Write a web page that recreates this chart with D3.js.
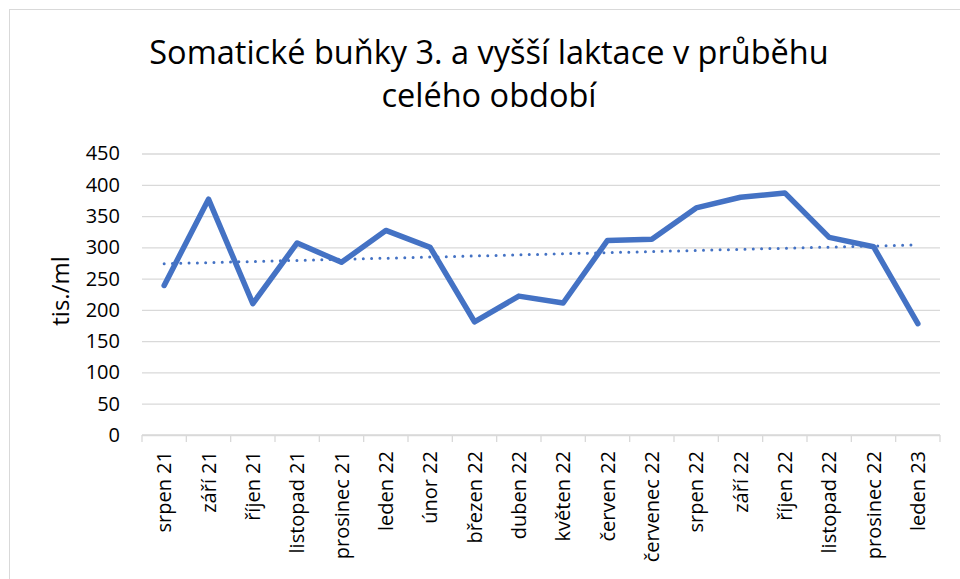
<!DOCTYPE html>
<html>
<head>
<meta charset="utf-8">
<script src="https://cdn.jsdelivr.net/npm/d3@7"></script>
<style>
  body { margin: 0; background: #fff; }
  svg { display: block; }
  text { font-family: "Open Sans", "Noto Sans", sans-serif; fill: #000; }
</style>
</head>
<body>
<svg id="chart"></svg>
<script>
const months = ['srpen 21', 'září 21', 'říjen 21', 'listopad 21', 'prosinec 21', 'leden 22', 'únor 22',
  'březen 22', 'duben 22', 'květen 22', 'červen 22', 'červenec 22', 'srpen 22', 'září 22', 'říjen 22',
  'listopad 22', 'prosinec 22', 'leden 23'];
const cells = [239, 377, 210, 307, 276, 327, 300, 181, 222, 211, 311, 313, 363, 380, 387, 316, 301, 178];
const yTicks = [0, 50, 100, 150, 200, 250, 300, 350, 400, 450];
const titleLines = ['Somatické buňky 3. a vyšší laktace v průběhu', 'celého období'];

const width = 960, height = 579;
const margin = { top: 153.5, right: 20, bottom: 144, left: 142 };
const chartWidth = width - margin.left - margin.right;
const chartHeight = height - margin.top - margin.bottom;

const svg = d3.select('#chart')
  .attr('width', width)
  .attr('height', height);

// Outer border
svg.append('rect')
  .attr('x', 9.5)
  .attr('y', 9.5)
  .attr('width', 960)
  .attr('height', 580)
  .attr('fill', 'none')
  .attr('stroke', '#d9d9d9');

// Title
svg.append('text')
  .attr('text-anchor', 'middle')
  .style('font-size', '32.5px')
  .selectAll('tspan')
  .data(titleLines)
  .enter()
  .append('tspan')
  .attr('x', 489)
  .attr('y', (d, i) => 64 + i * 43)
  .text(d => d);

const g = svg.append('g')
  .attr('transform', `translate(${margin.left},${margin.top})`);

// Scales
const xScale = d3.scaleBand()
  .domain(months)
  .range([0, chartWidth]);

const yScale = d3.scaleLinear()
  .domain([0, 450])
  .range([chartHeight, 0]);

// Grid lines
g.append('g')
  .call(d3.axisLeft(yScale)
    .tickValues(yTicks)
    .tickSize(-chartWidth)
    .tickFormat(''))
  .call(s => s.select('.domain').remove())
  .selectAll('.tick line')
  .attr('stroke', '#d9d9d9')
  .attr('stroke-width', 1.3);

// Y axis labels
g.append('g')
  .call(d3.axisLeft(yScale).tickValues(yTicks).tickSize(0).tickPadding(22))
  .call(s => s.select('.domain').remove())
  .selectAll('text')
  .style('font-size', '20px')
  .attr('fill', '#000');

// X axis with ticks on band edges
const xAxis = g.append('g')
  .attr('transform', `translate(0,${chartHeight})`);

xAxis.append('line')
  .attr('x1', 0)
  .attr('x2', chartWidth)
  .attr('stroke', '#d9d9d9')
  .attr('stroke-width', 1.3);

xAxis.selectAll('.edge')
  .data(months.concat(['end']))
  .enter()
  .append('line')
  .attr('class', 'edge')
  .attr('x1', (d, i) => i < months.length ? xScale(d) : chartWidth)
  .attr('x2', (d, i) => i < months.length ? xScale(d) : chartWidth)
  .attr('y1', 0)
  .attr('y2', 7)
  .attr('stroke', '#d9d9d9')
  .attr('stroke-width', 1.3);

xAxis.selectAll('.label')
  .data(months)
  .enter()
  .append('text')
  .attr('class', 'label')
  .attr('text-anchor', 'end')
  .attr('dy', '0.35em')
  .attr('transform', d => `translate(${xScale(d) + xScale.bandwidth() / 2},16) rotate(-90)`)
  .style('font-size', '20px')
  .text(d => d);

// Y axis title
svg.append('text')
  .attr('text-anchor', 'middle')
  .attr('dy', '0.35em')
  .attr('transform', 'translate(61,291) rotate(-90)')
  .style('font-size', '24px')
  .text('tis./ml');

// Linear trend (least squares over category index)
const n = cells.length;
const meanX = d3.mean(cells, (d, i) => i);
const meanY = d3.mean(cells);
const slope = d3.sum(cells, (d, i) => (i - meanX) * (d - meanY)) / d3.sum(cells, (d, i) => (i - meanX) ** 2);
const intercept = meanY - slope * meanX;
const trend = [0, n - 1].map(i => ({ month: months[i], value: intercept + slope * i }));

const cx = d => xScale(d.month) + xScale.bandwidth() / 2;

const line = d3.line()
  .x(cx)
  .y(d => yScale(d.value));

const series = months.map((m, i) => ({ month: m, value: cells[i] }));

g.append('path')
  .datum(series)
  .attr('fill', 'none')
  .attr('stroke', '#4472c4')
  .attr('stroke-width', 5.5)
  .attr('stroke-linejoin', 'round')
  .attr('stroke-linecap', 'round')
  .attr('d', line);

g.append('path')
  .datum(trend)
  .attr('fill', 'none')
  .attr('stroke', '#4472c4')
  .attr('stroke-width', 3)
  .attr('stroke-linecap', 'round')
  .attr('stroke-dasharray', '0 8.3')
  .attr('d', line);
</script>
</body>
</html>
